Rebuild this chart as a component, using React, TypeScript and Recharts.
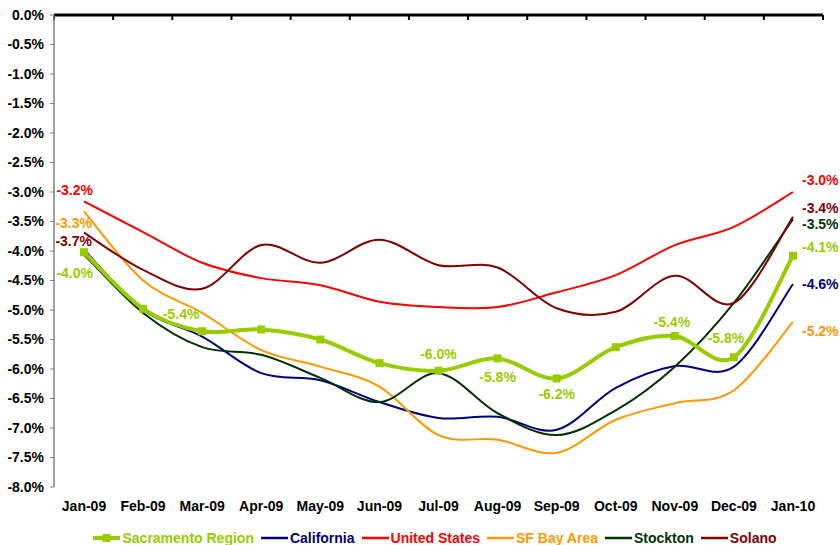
import React from "react";
import { LineChart, Line, XAxis, YAxis, LabelList } from "recharts";

const months = ["Jan-09", "Feb-09", "Mar-09", "Apr-09", "May-09", "Jun-09", "Jul-09", "Aug-09", "Sep-09", "Oct-09", "Nov-09", "Dec-09", "Jan-10"];
const sacramento = [-4.02, -4.98, -5.36, -5.33, -5.5, -5.9, -6.03, -5.82, -6.16, -5.63, -5.44, -5.8, -4.08];
const california = [-3.98, -5.0, -5.45, -6.07, -6.19, -6.56, -6.83, -6.81, -7.03, -6.32, -5.95, -5.96, -4.56];
const unitedStates = [-3.16, -3.68, -4.2, -4.46, -4.58, -4.86, -4.95, -4.95, -4.7, -4.41, -3.9, -3.59, -3.0];
const sfBayArea = [-3.33, -4.5, -5.05, -5.68, -5.96, -6.3, -7.12, -7.2, -7.42, -6.86, -6.58, -6.36, -5.2];
const stockton = [-4.06, -5.05, -5.63, -5.76, -6.15, -6.56, -6.07, -6.75, -7.12, -6.7, -5.96, -4.88, -3.46];
const solano = [-3.69, -4.32, -4.64, -3.9, -4.2, -3.81, -4.24, -4.28, -4.97, -5.03, -4.42, -4.88, -3.42];

const yTicks = [0, -0.5, -1, -1.5, -2, -2.5, -3, -3.5, -4, -4.5, -5, -5.5, -6, -6.5, -7, -7.5, -8];
const boundaryTicks = [0, 1, 2, 3, 4, 5, 6, 7, 8, 9, 10, 11, 12, 13];

const data = months.map((month, i) => ({
  month,
  slot: i + 0.5,
  sacramento: sacramento[i],
  california: california[i],
  unitedStates: unitedStates[i],
  sfBayArea: sfBayArea[i],
  stockton: stockton[i],
  solano: solano[i],
}));

const FONT = "'Liberation Sans', Arial, sans-serif";

// [dx, dy, anchor] per point index that gets a label
type Spot = [number, number, "start" | "middle" | "end"];
const SERIES: { key: string; name: string; color: string; width: number; spots: Record<number, Spot> }[] = [
  { key: "california", name: "California", color: "#000080", width: 2, spots: { 12: [9, 0, "start"] } },
  { key: "unitedStates", name: "United States", color: "#FF0000", width: 2, spots: { 0: [9, -11, "end"], 12: [9, -12, "start"] } },
  { key: "sfBayArea", name: "SF Bay Area", color: "#FF9900", width: 2, spots: { 0: [8, 12, "end"], 12: [9, 9, "start"] } },
  { key: "stockton", name: "Stockton", color: "#003300", width: 2, spots: { 12: [9, 5, "start"] } },
  { key: "solano", name: "Solano", color: "#800000", width: 2, spots: { 0: [8, 8, "end"], 12: [9, -9, "start"] } },
  {
    key: "sacramento",
    name: "Sacramento Region",
    color: "#99CC00",
    width: 4,
    spots: {
      0: [9, 21, "end"],
      2: [-21, -17, "middle"],
      6: [0, -17, "middle"],
      7: [0, 19, "middle"],
      8: [0, 16, "middle"],
      10: [-3, -14, "middle"],
      11: [-8, -19, "middle"],
      12: [9, -9, "start"],
    },
  },
];

const legendOrder = ["sacramento", "california", "unitedStates", "sfBayArea", "stockton", "solano"];

// smooth curve similar to spreadsheet "smoothed line"
function smoothCurve(context: any) {
  let pts: number[][] = [];
  return {
    areaStart() {},
    areaEnd() {},
    lineStart() {
      pts = [];
    },
    point(x: number, y: number) {
      pts.push([+x, +y]);
    },
    lineEnd() {
      if (!pts.length) return;
      context.moveTo(pts[0][0], pts[0][1]);
      for (let i = 0; i < pts.length - 1; i++) {
        const p0 = pts[i - 1] || pts[i];
        const p1 = pts[i];
        const p2 = pts[i + 1];
        const p3 = pts[i + 2] || p2;
        context.bezierCurveTo(
          p1[0] + (p2[0] - p0[0]) / 6,
          p1[1] + (p2[1] - p0[1]) / 6,
          p2[0] - (p3[0] - p1[0]) / 6,
          p2[1] - (p3[1] - p1[1]) / 6,
          p2[0],
          p2[1]
        );
      }
    },
  };
}

const makeLabel = (color: string, spots: Record<number, Spot>) => (props: any) => {
  const spot = spots[props.index];
  if (!spot) return null;
  const x = props.x ?? props.viewBox?.x;
  const y = props.y ?? props.viewBox?.y;
  return (
    <text
      key={props.index}
      x={x + spot[0]}
      y={y + spot[1]}
      textAnchor={spot[2]}
      dominantBaseline="central"
      fill={color}
      fontSize={14}
      fontWeight="bold"
      fontFamily={FONT}
    >
      {Number(props.value).toFixed(1) + "%"}
    </text>
  );
};

const SquareDot = (props: any) => {
  const { cx, cy, index } = props;
  if (cx == null || cy == null) return null;
  return <rect key={index} x={cx - 4} y={cy - 4} width={8} height={8} fill="#99CC00" />;
};

export default function App() {
  const tickStyle = { fill: "#000", fontSize: 14, fontWeight: "bold", fontFamily: FONT };
  return (
    <div style={{ position: "absolute", left: 0, top: 0, width: 840, height: 545, background: "#fff", fontFamily: FONT }}>
      <LineChart width={840} height={545} data={data} margin={{ top: 14, right: 17, bottom: 28, left: 0 }}>
        <XAxis
          xAxisId="top"
          dataKey="slot"
          type="number"
          orientation="top"
          domain={[0, 13]}
          ticks={boundaryTicks}
          allowDataOverflow
          interval={0}
          tickFormatter={() => ""}
          tickSize={-5}
          height={1}
          axisLine={{ stroke: "#000", strokeWidth: 3 }}
          tickLine={{ stroke: "#000", strokeWidth: 2 }}
        />
        <XAxis
          xAxisId="cat"
          dataKey="month"
          padding={{ left: 30, right: 30 }}
          axisLine={false}
          tickLine={false}
          tickSize={0}
          tickMargin={14}
          height={30}
          interval={0}
          tick={tickStyle}
        />
        <YAxis
          type="number"
          domain={[-8, 0]}
          ticks={yTicks}
          width={54}
          interval={0}
          tickFormatter={(v: number) => v.toFixed(1) + "%"}
          axisLine={{ stroke: "#808080", strokeWidth: 1.5 }}
          tickLine={{ stroke: "#808080" }}
          tickSize={4}
          tickMargin={6}
          tick={tickStyle}
        />
        {SERIES.map((s) => (
          <Line
            key={s.key}
            xAxisId="cat"
            dataKey={s.key}
            name={s.name}
            stroke={s.color}
            strokeWidth={s.width}
            type={smoothCurve as any}
            dot={s.key === "sacramento" ? SquareDot : false}
            activeDot={false}
            isAnimationActive={false}
          >
            <LabelList dataKey={s.key} content={makeLabel(s.color, s.spots)} />
          </Line>
        ))}
      </LineChart>
      <div
        style={{
          position: "absolute",
          left: 54,
          width: 769,
          top: 529,
          display: "flex",
          justifyContent: "center",
          alignItems: "center",
          fontSize: 14,
          fontWeight: "bold",
          lineHeight: "18px",
        }}
      >
        {legendOrder.map((k) => {
          const s = SERIES.find((x) => x.key === k)!;
          return (
            <div key={k} style={{ display: "flex", alignItems: "center", marginRight: 7 }}>
              <svg width={27} height={10}>
                <line x1={0} y1={5} x2={27} y2={5} stroke={s.color} strokeWidth={s.width === 4 ? 4 : 2.5} />
                {k === "sacramento" && <rect x={9.5} y={1} width={8} height={8} fill={s.color} />}
              </svg>
              <span style={{ color: s.color, marginLeft: 2 }}>{s.name}</span>
            </div>
          );
        })}
      </div>
    </div>
  );
}
